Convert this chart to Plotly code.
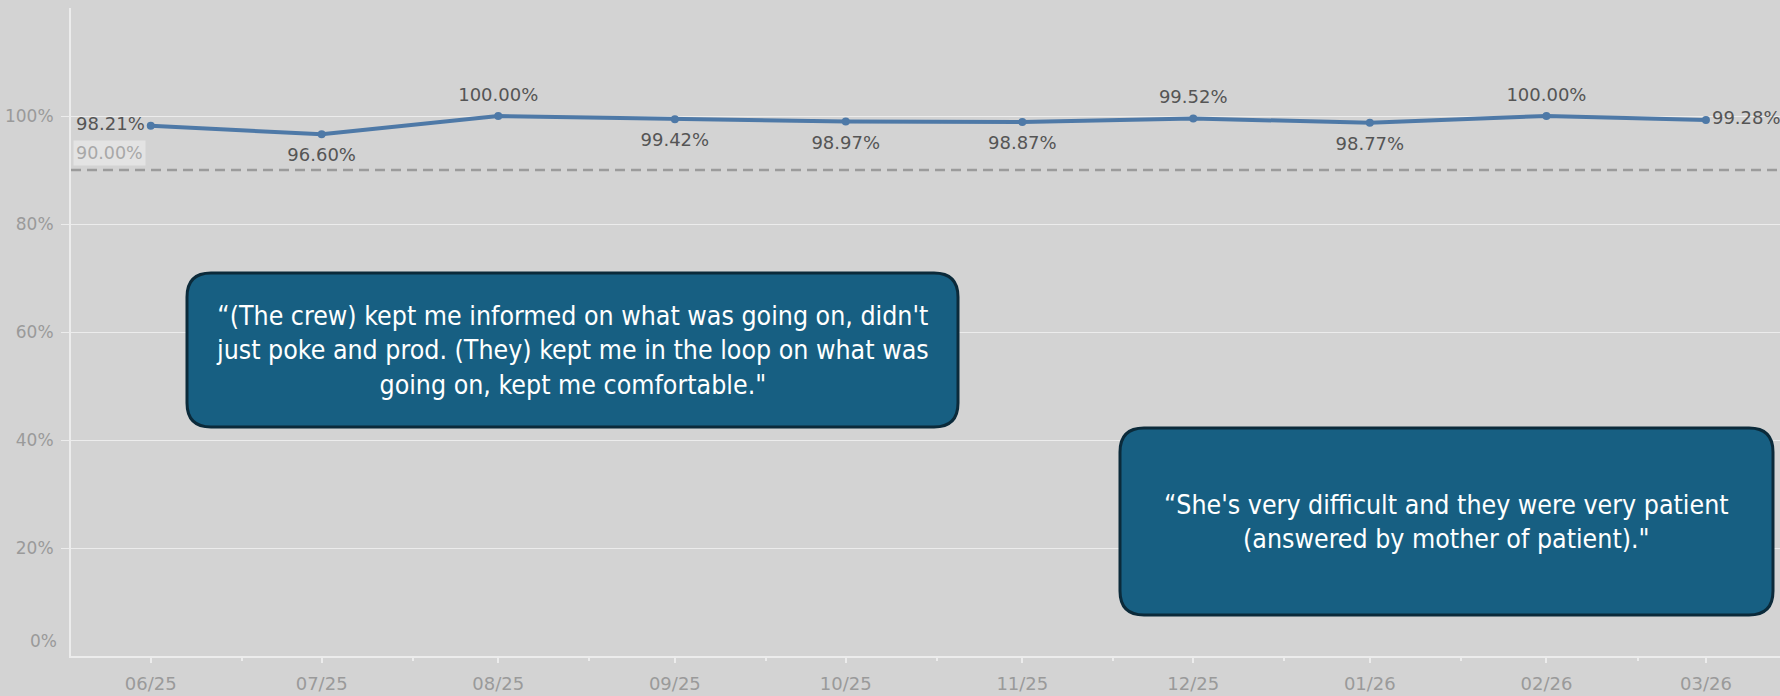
import plotly.graph_objects as go

# ---- data ----
months = ["2025-06-01", "2025-07-01", "2025-08-01", "2025-09-01", "2025-10-01",
          "2025-11-01", "2025-12-01", "2026-01-01", "2026-02-01", "2026-03-01"]
month_labels = ["06/25", "07/25", "08/25", "09/25", "10/25",
                "11/25", "12/25", "01/26", "02/26", "03/26"]
values = [0.9821, 0.9660, 1.0000, 0.9942, 0.9897, 0.9887, 0.9952, 0.9877, 1.0000, 0.9928]
label_pos = ["middle left", "bottom center", "top center", "bottom center", "bottom center",
             "bottom center", "top center", "bottom center", "top center", "middle right"]
target = 0.90
y_ticks = [0.2, 0.4, 0.6, 0.8, 1.0]
y_tick_labels = ["20%", "40%", "60%", "80%", "100%"]
quote1 = ("\u201c(The crew) kept me informed on what was going on, didn't<br>"
          "just poke and prod. (They) kept me in the loop on what was<br>"
          "going on, kept me comfortable.\"")
quote2 = ("\u201cShe's very difficult and they were very patient<br>"
          "(answered by mother of patient).\"")

# ---- styling ----
W, H = 1780, 696
ML, MR, MT, MB = 71, 0, 8, 40
PW, PH = W - ML - MR, H - MT - MB
BG = "#d3d3d3"
GRID = "#ececec"
LINE = "#4e79a7"
TICKFONT = dict(family="DejaVu Sans", size=17, color="#9a9a9a")
XTICKFONT = dict(family="DejaVu Sans", size=18, color="#9a9a9a")
LABFONT = dict(family="DejaVu Sans", size=18, color="#555555")
QFONT = dict(family="Liberation Sans Narrow, DejaVu Sans Condensed, Arial Narrow, sans-serif",
             size=26.5, color="white")
# spacing of the data labels from the points (invisible marker size)
LABEL_GAP = {"middle left": 8, "middle right": 8, "top center": 16, "bottom center": 20}


def px_x(p):
    return (p - ML) / PW


def px_y(p):
    return (MT + PH - p) / PH


def rounded_rect(x0, y0, x1, y1, r):
    X, Y = px_x, px_y
    return (f"M {X(x0+r)},{Y(y0)} L {X(x1-r)},{Y(y0)} Q {X(x1)},{Y(y0)} {X(x1)},{Y(y0+r)} "
            f"L {X(x1)},{Y(y1-r)} Q {X(x1)},{Y(y1)} {X(x1-r)},{Y(y1)} "
            f"L {X(x0+r)},{Y(y1)} Q {X(x0)},{Y(y1)} {X(x0)},{Y(y1-r)} "
            f"L {X(x0)},{Y(y0+r)} Q {X(x0)},{Y(y0)} {X(x0+r)},{Y(y0)} Z")


fig = go.Figure()
fig.add_trace(go.Scatter(
    x=months, y=values, mode="lines+markers",
    line=dict(color=LINE, width=4),
    marker=dict(color=LINE, size=8),
    hoverinfo="skip",
))
fig.add_trace(go.Scatter(
    x=months, y=values, mode="markers+text",
    marker=dict(color="rgba(0,0,0,0)", size=[LABEL_GAP[p] for p in label_pos],
                line=dict(width=0, color="rgba(0,0,0,0)")),
    text=[f"{v*100:.2f}%" for v in values],
    textposition=label_pos,
    textfont=LABFONT,
    cliponaxis=False,
    hoverinfo="skip",
))

shapes = [
    dict(type="line", xref="paper", x0=0, x1=1, yref="y", y0=target, y1=target,
         line=dict(color="#9b9b9b", width=2.5, dash="10px,6px"), layer="below"),
]
boxes = [((187, 273, 958, 427), quote1), ((1120, 428, 1773, 615), quote2)]
annotations = []
for (x0, y0, x1, y1), q in boxes:
    shapes.append(dict(type="path", xref="paper", yref="paper",
                       path=rounded_rect(x0, y0, x1, y1, 24),
                       fillcolor="#175f82", line=dict(color="#0b2a3a", width=3), layer="above"))
    annotations.append(dict(xref="paper", yref="paper", x=px_x((x0 + x1) / 2), y=px_y((y0 + y1) / 2),
                            text=q, showarrow=False, font=QFONT, align="center",
                            xanchor="center", yanchor="middle"))

annotations.append(dict(xref="paper", yref="y", x=0, y=target, xanchor="left", yanchor="bottom",
                        xshift=2, yshift=4, text=f"{target*100:.2f}%", showarrow=False,
                        font=dict(family="DejaVu Sans", size=17.5, color="#a8a8a8"),
                        bgcolor="rgba(240,240,240,0.55)", borderpad=2))
annotations.append(dict(xref="paper", yref="y", x=0, y=0, xanchor="right", yanchor="middle",
                        xshift=-12, yshift=15, text="0%", showarrow=False, font=TICKFONT))

fig.update_layout(
    width=W, height=H,
    margin=dict(l=ML, r=MR, t=MT, b=MB, pad=0),
    paper_bgcolor=BG, plot_bgcolor=BG,
    showlegend=False,
    shapes=shapes, annotations=annotations,
    xaxis=dict(type="date", range=["2025-05-18", "2026-03-14"],
               tickvals=months, ticktext=month_labels, tickfont=XTICKFONT,
               showgrid=False, zeroline=False,
               showline=True, linecolor=GRID, linewidth=2,
               ticks="outside", ticklen=5, tickcolor=GRID, tickwidth=1.5,
               ticklabelstandoff=5,
               minor=dict(dtick="M1", tick0="2025-05-17", ticks="outside", ticklen=3,
                          tickcolor=GRID, showgrid=False),
               fixedrange=True),
    yaxis=dict(range=[0, 1.2], tickvals=y_ticks, ticktext=y_tick_labels, tickfont=TICKFONT,
               showgrid=True, gridcolor=GRID, gridwidth=1, zeroline=False,
               showline=True, linecolor=GRID, linewidth=2,
               ticks="outside", ticklen=8, tickcolor=GRID, tickwidth=1,
               ticklabelstandoff=4, fixedrange=True),
)

fig.write_html("out.html", config={"displayModeBar": False},
               post_script="document.body.style.margin='0';document.body.style.overflow='hidden';")
